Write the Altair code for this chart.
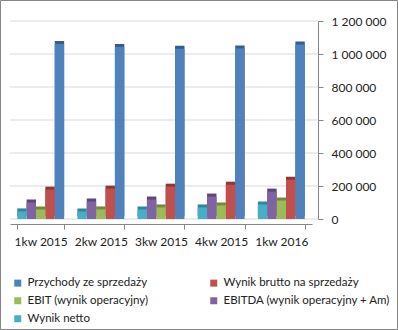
import altair as alt
import pandas as pd

categories = ["1kw 2015", "2kw 2015", "3kw 2015", "4kw 2015", "1kw 2016"]
series = ["Przychody ze sprzedaży", "Wynik brutto na sprzedaży", "EBIT (wynik operacyjny)",
          "EBITDA (wynik operacyjny + Am)", "Wynik netto"]
przychody = [1060000, 1042000, 1032000, 1034000, 1057000]
brutto = [178000, 184000, 196000, 208000, 238000]
ebit = [58000, 58000, 70000, 82000, 112000]
ebitda = [100000, 106000, 118000, 136000, 166000]
netto = [46000, 46000, 58000, 70000, 88000]
bar_order = ["Wynik netto", "EBITDA (wynik operacyjny + Am)", "EBIT (wynik operacyjny)",
             "Wynik brutto na sprzedaży", "Przychody ze sprzedaży"]
# legend is filled column by column: left column first, then right column
legend_order = ["Przychody ze sprzedaży", "EBIT (wynik operacyjny)", "Wynik netto",
                "Wynik brutto na sprzedaży", "EBITDA (wynik operacyjny + Am)"]
palette = {"Przychody ze sprzedaży": "#4F81BD", "Wynik brutto na sprzedaży": "#C0504D",
           "EBIT (wynik operacyjny)": "#9BBB59", "EBITDA (wynik operacyjny + Am)": "#8064A2",
           "Wynik netto": "#4BACC6"}
dark = {"Przychody ze sprzedaży": "#385D8A", "Wynik brutto na sprzedaży": "#8C3836",
        "EBIT (wynik operacyjny)": "#71893F", "EBITDA (wynik operacyjny + Am)": "#5C4776",
        "Wynik netto": "#31859C"}
y_ticks = [0, 200000, 400000, 600000, 800000, 1000000, 1200000]

vals = [przychody, brutto, ebit, ebitda, netto]
rows = []
for s, v in zip(series, vals):
    for c, x in zip(categories, v):
        rows.append({"kw": c, "series": s, "value": x, "dark": dark[s]})
df = pd.DataFrame(rows)

FONT = "Lato"
yaxis = alt.Axis(orient="right", values=y_ticks, grid=False, offset=6,
                 domainColor="#868686", tickColor="#868686", tickSize=5,
                 labelPadding=8, labelFontSize=12, labelFont=FONT,
                 labelColor="#222", labelAlign="left",
                 labelExpr="replace(replace(format(datum.value, ','), ',', ' '), ',', ' ')")
yscale = alt.Scale(domain=[0, 1200000])
xenc = alt.X("kw:N", sort=categories, title=None,
             scale=alt.Scale(paddingInner=0.22, paddingOuter=0.12),
             axis=alt.Axis(labelAngle=0, tickBand="extent", domainColor="#868686",
                           tickColor="#868686", tickSize=5, labelPadding=7, offset=5,
                           labelFontSize=12, labelFont=FONT, labelColor="#222"))
xoff = alt.XOffset("series:N", sort=bar_order)
yenc = alt.Y("value:Q", title=None, scale=yscale, axis=yaxis)

grid = alt.Chart(pd.DataFrame({"value": y_ticks})).mark_rule(color="#D9D9D9", strokeWidth=1).encode(
    y=alt.Y("value:Q", title=None, scale=yscale, axis=yaxis),
    x=alt.value(0), x2=alt.value(308))

shadow = alt.Chart(df).mark_bar(xOffset=3, yOffset=-3).encode(
    x=xenc, xOffset=xoff, y=yenc,
    color=alt.Color("dark:N", scale=None))

bars = alt.Chart(df).mark_bar().encode(
    x=xenc, xOffset=xoff, y=yenc,
    color=alt.Color("series:N",
                    scale=alt.Scale(domain=legend_order, range=[palette[s] for s in legend_order]),
                    legend=alt.Legend(title=None, orient="none", legendX=2, legendY=256,
                                      columns=2, columnPadding=59, rowPadding=5,
                                      symbolType="square", symbolSize=49, symbolStrokeWidth=0,
                                      labelFont=FONT, labelFontSize=11.5, labelColor="#222",
                                      labelLimit=300)))

border = alt.Chart(pd.DataFrame({"a": [0]})).mark_rect(fill=None, stroke="#868686", strokeWidth=1).encode(
    x=alt.value(-9.5), x2=alt.value(387.5), y=alt.value(-20.5), y2=alt.value(308.5))

chart = alt.layer(grid, shadow, bars, border).resolve_scale(color="independent").properties(
    width=302, height=198,
    autosize=alt.AutoSizeParams(type="none"),
    padding={"left": 10, "top": 21, "right": 86, "bottom": 111},
    background="white"
).configure_view(stroke=None)

chart.save("out.html", embed_options={"renderer": "svg", "actions": False})
